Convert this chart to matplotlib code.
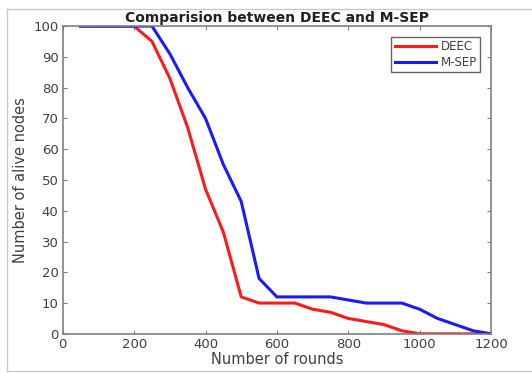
"""Alive nodes per round: DEEC vs M-SEP."""

import matplotlib

matplotlib.use("Agg")
import matplotlib.pyplot as plt
from matplotlib.lines import Line2D

rounds = [50, 100, 150, 200, 250, 300, 350, 400, 450, 500, 550, 600, 650, 700,
          750, 800, 850, 900, 950, 1000, 1050, 1100, 1150, 1200]
deec_alive = [100, 100, 100, 100, 95, 83, 67, 47, 33, 12, 10, 10, 10, 8,
              7, 5, 4, 3, 1, 0, 0, 0, 0, 0]
msep_alive = [100, 100, 100, 100, 100, 91, 80, 70, 55, 43, 18, 12, 12, 12,
              12, 11, 10, 10, 10, 8, 5, 3, 1, 0]

x_ticks = [0, 200, 400, 600, 800, 1000, 1200]
y_ticks = [0, 10, 20, 30, 40, 50, 60, 70, 80, 90, 100]

text_color = "#404040"
axis_color = "#808080"

figure = plt.figure(figsize=(5.32, 3.73), dpi=100)
axis = figure.add_axes([0.118, 0.105, 0.805, 0.825])

axis.plot(rounds, deec_alive, color="#ff1a1a", linewidth=2.2, label="DEEC")
axis.plot(rounds, msep_alive, color="#1a1aff", linewidth=2.2, label="M-SEP")

axis.set_xlim(0, 1200)
axis.set_ylim(0, 100)
axis.set_xticks(x_ticks)
axis.set_yticks(y_ticks)
axis.tick_params(direction="in", length=3, colors=axis_color, labelcolor=text_color,
                 labelsize=9.5, top=True, right=True, pad=3)
for spine in axis.spines.values():
    spine.set_color(axis_color)
    spine.set_linewidth(1.2)

axis.set_xlabel("Number of rounds", fontsize=10.5, color=text_color, labelpad=1)
axis.set_ylabel("Number of alive nodes", fontsize=10.5, color=text_color, labelpad=4)
axis.set_title("Comparision between DEEC and M-SEP", fontsize=10, fontweight="bold",
               color="#202020", pad=3)

legend = axis.legend(loc="upper right", fontsize=8.5, frameon=True, fancybox=False,
                     handlelength=3.5, borderaxespad=0.9, labelspacing=0.2,
                     handletextpad=0.4, borderpad=0.3)
legend.get_frame().set_edgecolor("#404040")
legend.get_frame().set_linewidth(1.0)
for text in legend.get_texts():
    text.set_color(text_color)

# faint frame around the screenshot
border = "#c8c8c8"
figure.add_artist(Line2D([7 / 532, 7 / 532], [2 / 373, 364 / 373], color=border, lw=1))
figure.add_artist(Line2D([7 / 532, 1.0], [364 / 373, 364 / 373], color=border, lw=1))
figure.add_artist(Line2D([7 / 532, 1.0], [2 / 373, 2 / 373], color=border, lw=1))

figure.savefig("out.png", dpi=100)
plt.close(figure)
